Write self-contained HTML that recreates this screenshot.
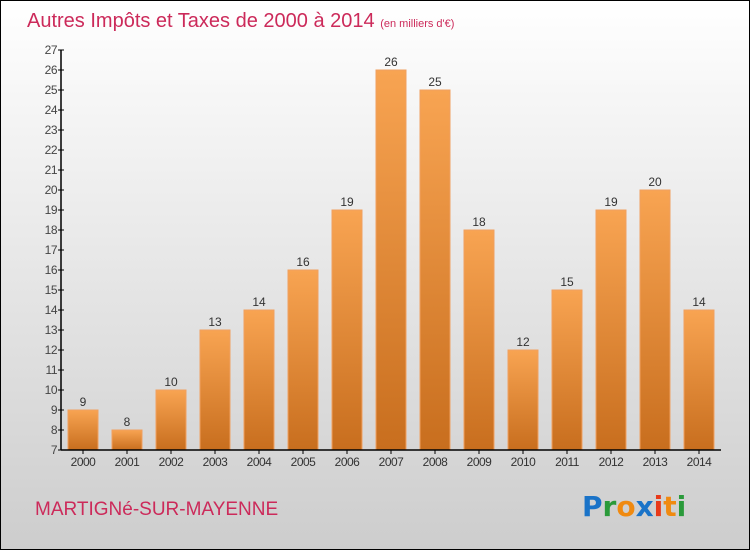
<!DOCTYPE html>
<html><head><meta charset="utf-8"><style>
body{margin:0;}
svg{display:block;font-family:"Liberation Sans",sans-serif;}
</style></head><body>
<svg width="750" height="550" viewBox="0 0 750 550">
<defs>
<linearGradient id="bg" x1="0" y1="0" x2="0" y2="1"><stop offset="0" stop-color="#ffffff"/><stop offset="1" stop-color="#cdcdcd"/></linearGradient>
<linearGradient id="bar" x1="0" y1="0" x2="0" y2="1"><stop offset="0" stop-color="#f8a452"/><stop offset="1" stop-color="#c86e1e"/></linearGradient>
</defs>
<rect x="0.5" y="0.5" width="749" height="549" fill="url(#bg)" stroke="#000"/>
<text x="27" y="27" font-size="20" fill="#cc2a5a">Autres Impôts et Taxes de 2000 à 2014 <tspan font-size="11">(en milliers d'€)</tspan></text>
<g id="yaxis"></g>
<g id="bars"></g>
<g id="xaxis"></g>
<text x="35" y="515" font-size="19" fill="#cc2a5a">MARTIGNé-SUR-MAYENNE</text>
<g font-size="28" font-weight="bold" font-family="'DejaVu Sans',sans-serif">
<text x="582" y="516"><tspan fill="#1a73c8">P</tspan><tspan fill="#2a9a3a">r</tspan><tspan fill="#f08a10">o</tspan><tspan fill="#1a73c8">x</tspan><tspan fill="#e83a1a">i</tspan><tspan fill="#f08a10">t</tspan><tspan fill="#2a9a3a">i</tspan></text>
</g>
</svg>
<script>
const years=["2000","2001","2002","2003","2004","2005","2006","2007","2008","2009","2010","2011","2012","2013","2014"];
const values=[9,8,10,13,14,16,19,26,25,18,12,15,19,20,14];
const yTicks=[7,8,9,10,11,12,13,14,15,16,17,18,19,20,21,22,23,24,25,26,27];
const NS="http://www.w3.org/2000/svg";
const yMin=7,yMax=27,yTop=50,yBot=450,x0=61,x1=721;
const yS=v=>yBot-(v-yMin)/(yMax-yMin)*(yBot-yTop);
const step=(x1-x0)/years.length;
const xS=i=>x0+step*(i+0.5);
function mk(t,a,p){const e=document.createElementNS(NS,t);for(const k in a)e.setAttribute(k,a[k]);p.appendChild(e);return e;}
const ya=document.getElementById('yaxis'),xa=document.getElementById('xaxis'),bg=document.getElementById('bars');
mk('line',{x1:x0,y1:yTop,x2:x0,y2:yBot,stroke:'#000','stroke-width':1.5},ya);
yTicks.forEach(v=>{
 const y=yS(v);
 mk('line',{x1:x0-3,y1:y,x2:x0+3,y2:y,stroke:'#000'},ya);
 const t=mk('text',{x:x0-4,y:y+4,'font-size':12,fill:'#444','text-anchor':'end','letter-spacing':'-0.5'},ya);
 
 
 t.textContent=v;
});
values.forEach((v,i)=>{
 const cx=xS(i),w=30,y=yS(v);
 const r=mk('rect',{x:cx-w/2,y:y,width:w,height:yBot-y,fill:'url(#bar)',stroke:'#f0a060','stroke-width':1},bg);
 
 
 const t=mk('text',{x:cx,y:y-4,'font-size':12,fill:'#333','text-anchor':'middle'},bg);
 
 
 t.textContent=v;
});
mk('line',{x1:x0,y1:yBot,x2:x1,y2:yBot,stroke:'#000','stroke-width':1.5},xa);
years.forEach((yr,i)=>{
 const cx=xS(i);
 mk('line',{x1:cx,y1:yBot,x2:cx,y2:yBot+4,stroke:'#000'},xa);
 const t=mk('text',{x:cx,y:yBot+16,'font-size':12,fill:'#333','text-anchor':'middle','letter-spacing':'-0.5'},xa);
 
 
 t.textContent=yr;
});
</script>
</body></html>
